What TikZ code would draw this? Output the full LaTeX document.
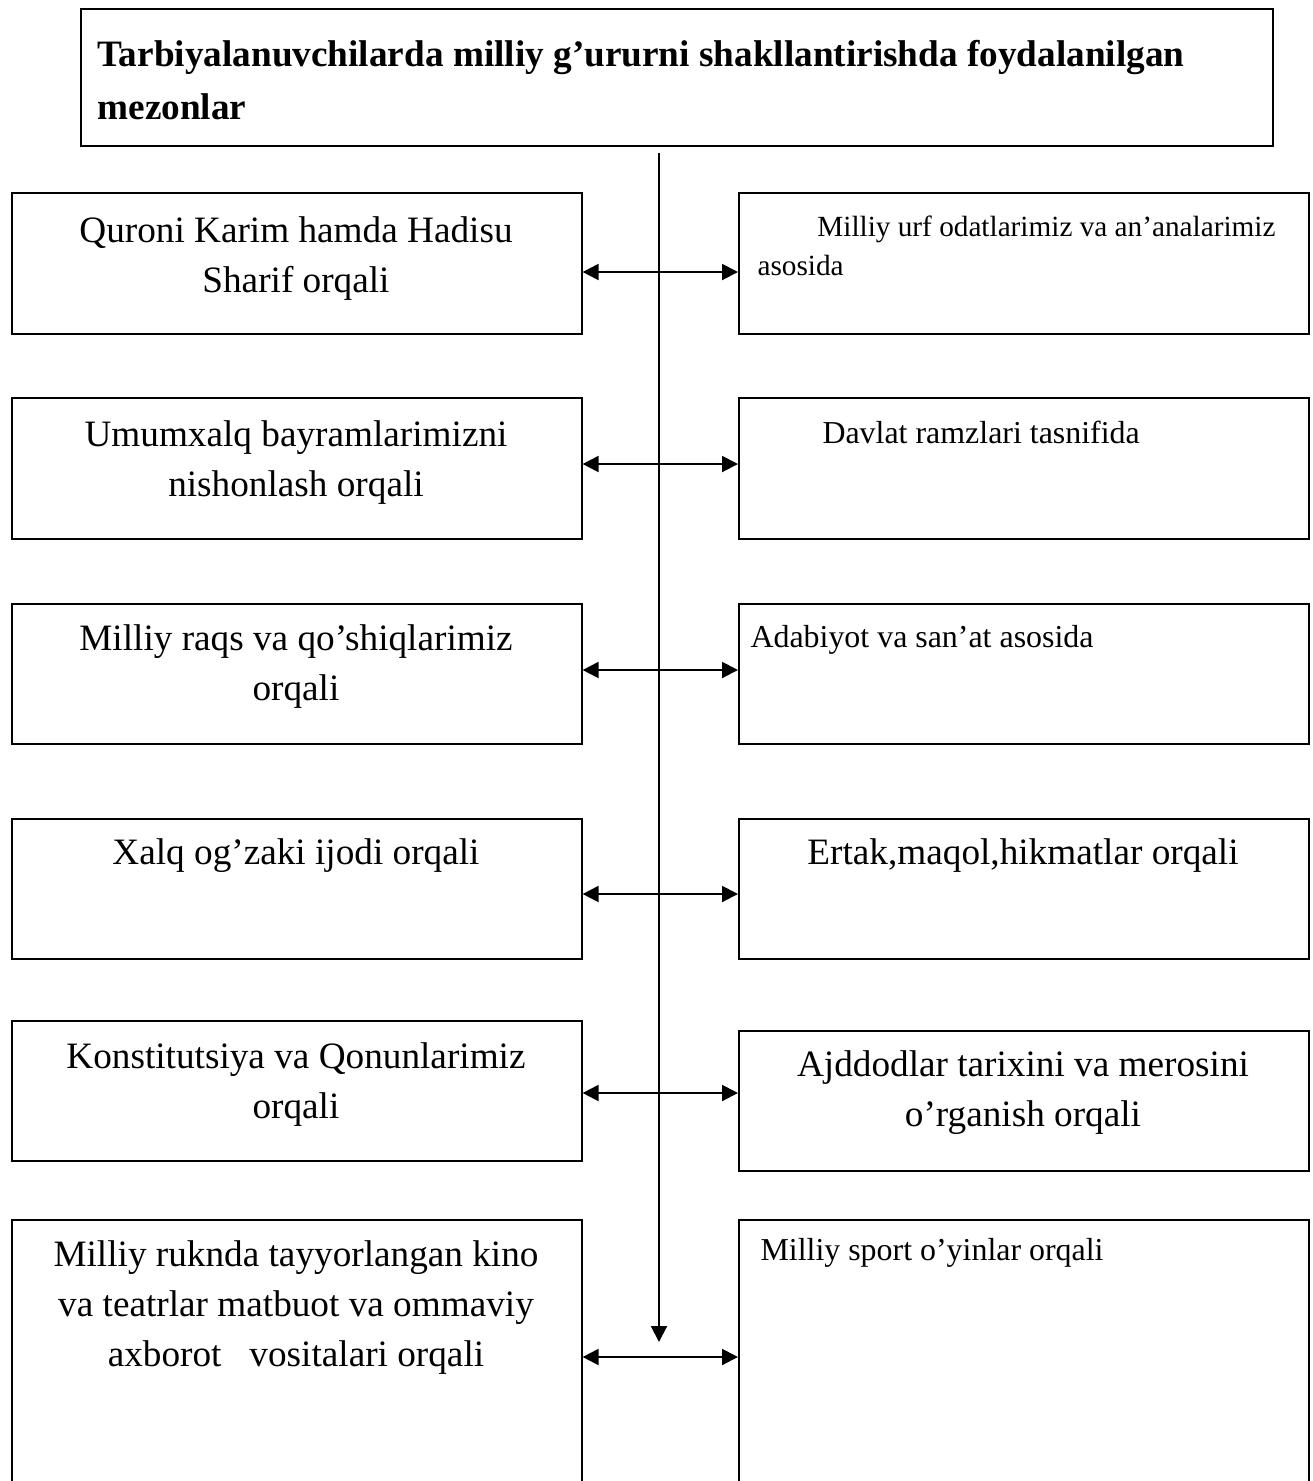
\documentclass[tikz,border=0pt]{standalone}
\usepackage{fontspec}
\setmainfont{Liberation Serif}
\usetikzlibrary{arrows.meta}
\begin{document}
\begin{tikzpicture}[x=0.376pt, y=-0.376pt,
  box/.style={draw, line width=0.6pt, inner sep=0pt, anchor=north west, minimum width={570*0.376pt}},
  bigtxt/.style={font=\fontsize{14}{18.8}\selectfont, inner sep=0pt, align=center, anchor=north},
  smalltxt/.style={font=\fontsize{12}{15.5}\selectfont, inner sep=0pt, align=left, anchor=north west},
  conn/.style={line width=0.75pt, {Triangle[length=6pt, width=6pt]}-{Triangle[length=6pt, width=6pt]}},
  trunk/.style={line width=0.75pt, -{Triangle[length=6pt, width=6pt]}}]
\useasboundingbox (0,0) rectangle (1313,1481);
\clip (0,0) rectangle (1313,1481);
% title
\node[box, minimum width={1192*0.376pt}, minimum height={137*0.376pt}] (title) at (80,8) {};
\node[inner sep=0pt, anchor=north west, align=left, font=\fontsize{14}{20}\bfseries\selectfont] (titletxt) at (97,40)
  {Tarbiyalanuvchilarda milliy g’ururni shakllantirishda foydalanilgan\\mezonlar};
% boxes
\node[box, minimum height={141*0.376pt}] (L1) at (11,192) {};
\node[box, minimum height={141*0.376pt}] (R1) at (738,192) {};
\node[box, minimum height={141*0.376pt}] (L2) at (11,397) {};
\node[box, minimum height={141*0.376pt}] (R2) at (738,397) {};
\node[box, minimum height={140*0.376pt}] (L3) at (11,603) {};
\node[box, minimum height={140*0.376pt}] (R3) at (738,603) {};
\node[box, minimum height={140*0.376pt}] (L4) at (11,818) {};
\node[box, minimum height={140*0.376pt}] (R4) at (738,818) {};
\node[box, minimum height={140*0.376pt}] (L5) at (11,1020) {};
\node[box, minimum height={140*0.376pt}] (R5) at (738,1030) {};
\node[box, minimum height={300*0.376pt}] (L6) at (11,1219) {};
\node[box, minimum height={300*0.376pt}] (R6) at (738,1219) {};
% texts
\node[bigtxt] (t1) at (296,216) {Quroni Karim hamda Hadisu\\Sharif orqali};
\node[smalltxt, font=\fontsize{11}{14.7}\selectfont] (u1) at (757,215) {\hspace*{22.5pt}Milliy urf odatlarimiz va an’analarimiz\\asosida};
\node[bigtxt] (t2) at (296,420) {Umumxalq bayramlarimizni\\nishonlash orqali};
\node[smalltxt] (u2) at (822,420) {Davlat ramzlari tasnifida};
\node[bigtxt] (t3) at (296,624) {Milliy raqs va qo’shiqlarimiz\\orqali};
\node[smalltxt] (u3) at (750,625) {Adabiyot va san’at asosida};
\node[bigtxt] (t4) at (296,838) {Xalq og’zaki ijodi orqali};
\node[bigtxt] (u4) at (1023,838) {Ertak,maqol,hikmatlar orqali};
\node[bigtxt] (t5) at (296,1042) {Konstitutsiya va Qonunlarimiz\\orqali};
\node[bigtxt] (u5) at (1023,1050) {Ajddodlar tarixini va merosini\\o’rganish orqali};
\node[bigtxt] (t6) at (296,1240) {Milliy ruknda tayyorlangan kino\\va teatrlar matbuot va ommaviy\\axborot\ \ \ vositalari orqali};
\node[smalltxt] (u6) at (760,1238) {Milliy sport o’yinlar orqali};
% trunk
\coordinate (vtop) at (659,153);
\coordinate (vbot) at (659,1342);
\draw[trunk] (vtop) -- (vbot);
% connectors
\coordinate (a1) at (0,272);
\coordinate (a2) at (0,464);
\coordinate (a3) at (0,670);
\coordinate (a4) at (0,894);
\coordinate (a5) at (0,1093);
\coordinate (a6) at (0,1357);
\draw[conn] (L1.east |- a1) -- (R1.west |- a1);
\draw[conn] (L2.east |- a2) -- (R2.west |- a2);
\draw[conn] (L3.east |- a3) -- (R3.west |- a3);
\draw[conn] (L4.east |- a4) -- (R4.west |- a4);
\draw[conn] (L5.east |- a5) -- (R5.west |- a5);
\draw[conn] (L6.east |- a6) -- (R6.west |- a6);
\end{tikzpicture}
\end{document}
